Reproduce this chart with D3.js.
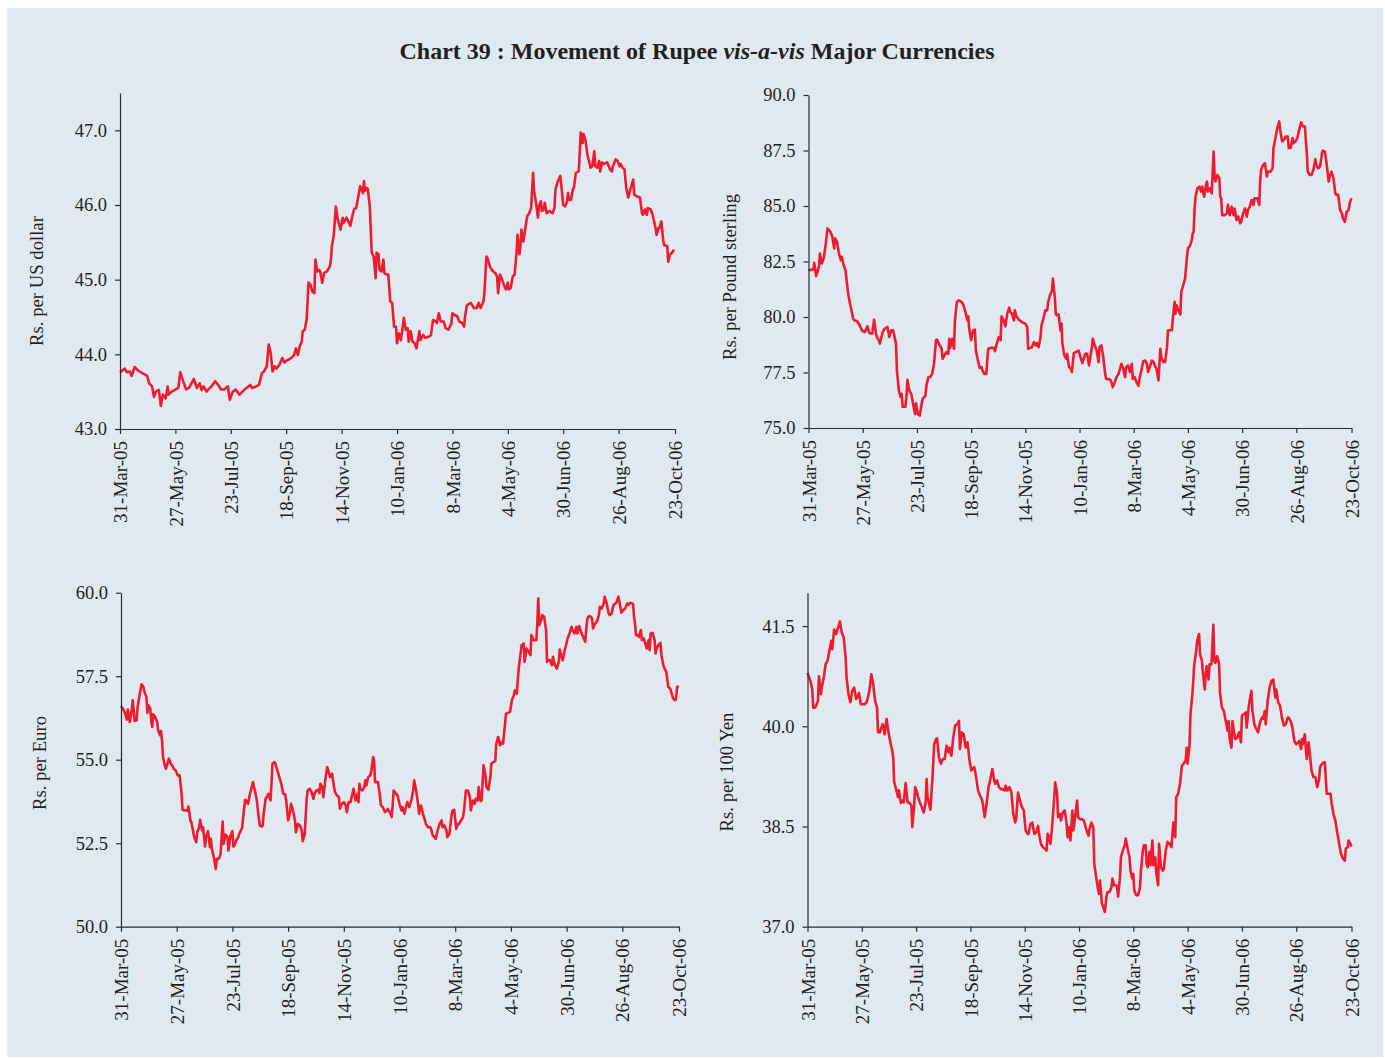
<!DOCTYPE html>
<html>
<head>
<meta charset="utf-8">
<script src="https://cdn.jsdelivr.net/npm/d3@7"></script>
<style>
body { margin: 0; background: #ffffff; }
svg { display: block; font-family: "Liberation Serif", "Times New Roman", serif; }
.axis path, .axis line { stroke: #2a2a2a; stroke-width: 1.2; }
.axis text { fill: #231f20; font-family: "Liberation Serif", serif; }
.axis.x text { font-size: 19px; }
.axis.y text { font-size: 18.5px; }
.ylabel { font-size: 18.7px; fill: #231f20; }
</style>
</head>
<body>
<svg id="chart" width="1385" height="1059"></svg>
<script>
// x positions are days counted from 31-Mar-05
var startDate = new Date(2005, 2, 31);
var endDate = new Date(2006, 9, 23);

var tickDates = ["2005-03-31", "2005-05-27", "2005-07-23", "2005-09-18", "2005-11-14", "2006-01-10",
                 "2006-03-08", "2006-05-04", "2006-06-30", "2006-08-26", "2006-10-23"];

var usdTicks = [43, 44, 45, 46, 47];
var gbpTicks = [75, 77.5, 80, 82.5, 85, 87.5, 90];
var eurTicks = [50, 52.5, 55, 57.5, 60];
var jpyTicks = [37, 38.5, 40, 41.5];

var usdRates = [[0,43.76],[5,43.81],[7,43.76],[10,43.77],[12,43.71],[15,43.83],[19,43.78],[24,43.74],[28,43.71],[30,43.61],
  [33,43.57],[35,43.43],[37,43.50],[40,43.52],[42,43.31],[44,43.46],[47,43.41],[49,43.57],[50,43.46],[53,43.50],
  [56,43.52],[60,43.55],[62,43.76],[65,43.64],[68,43.53],[71,43.55],[76,43.67],[79,43.55],[82,43.61],[84,43.52],
  [86,43.57],[89,43.50],[91,43.53],[94,43.57],[98,43.64],[101,43.59],[104,43.53],[107,43.53],[111,43.57],[113,43.39],
  [116,43.50],[119,43.53],[123,43.46],[126,43.50],[130,43.55],[134,43.59],[136,43.55],[140,43.57],[143,43.59],[146,43.75],
  [148,43.77],[151,43.84],[153,44.13],[155,44.02],[157,43.77],[159,43.84],[161,43.81],[164,43.86],[167,43.95],[169,43.89],
  [172,43.92],[176,43.95],[179,43.99],[181,44.08],[183,43.99],[185,44.11],[187,44.17],[188,44.31],[190,44.33],[192,44.46],
  [193,44.71],[194,44.96],[196,44.93],[198,44.84],[200,44.82],[201,45.27],[203,45.11],[205,45.13],[206,45.11],[208,44.96],
  [210,45.09],[213,45.11],[216,45.18],[217,45.27],[218,45.45],[220,45.60],[222,45.98],[224,45.81],[225,45.76],[227,45.67],
  [229,45.83],[230,45.76],[233,45.83],[235,45.78],[237,45.72],[239,45.85],[241,45.95],[243,45.96],[245,46.10],[247,46.25],
  [248,46.23],[250,46.16],[251,46.32],[252,46.19],[254,46.23],[255,46.21],[257,45.98],[258,45.67],[259,45.36],[261,45.31],
  [263,45.02],[264,45.36],[266,45.34],[267,45.13],[269,45.11],[271,45.27],[272,45.09],[274,45.07],[276,45.07],[278,44.71],
  [280,44.69],[282,44.37],[284,44.37],[285,44.15],[287,44.28],[289,44.19],[290,44.28],[292,44.49],[294,44.33],[296,44.35],
  [297,44.17],[299,44.31],[301,44.17],[303,44.15],[305,44.08],[308,44.31],[309,44.19],[312,44.26],[314,44.22],[318,44.24],
  [320,44.26],[322,44.46],[325,44.44],[326,44.42],[328,44.55],[330,44.44],[333,44.44],[335,44.35],[338,44.33],[341,44.42],
  [342,44.55],[344,44.53],[347,44.51],[349,44.44],[352,44.42],[354,44.37],[355,44.51],[357,44.66],[361,44.69],[364,44.62],
  [367,44.62],[369,44.69],[371,44.62],[374,44.71],[375,44.84],[377,45.31],[378,45.29],[381,45.16],[384,45.11],[386,45.09],
  [388,45.04],[389,44.82],[391,45.07],[392,45.04],[395,44.93],[397,44.87],[399,44.96],[400,44.87],[402,44.89],[404,45.04],
  [406,45.07],[408,45.36],[409,45.60],[411,45.34],[412,45.46],[413,45.67],[415,45.51],[417,45.69],[419,45.85],[421,45.89],
  [423,45.96],[425,46.43],[426,46.19],[428,46.03],[430,45.83],[431,45.98],[433,46.05],[434,45.92],[436,45.94],[437,46.03],
  [439,45.89],[442,45.92],[445,45.89],[447,45.96],[448,46.21],[450,46.30],[452,46.36],[453,46.39],[455,46.14],[456,46.00],
  [458,45.98],[460,46.05],[461,46.16],[462,46.07],[464,46.07],[466,46.21],[467,46.23],[469,46.43],[472,46.45],[473,46.70],
  [474,46.97],[475,46.95],[476,46.83],[477,46.95],[479,46.86],[481,46.66],[483,46.57],[484,46.50],[486,46.52],[488,46.72],
  [489,46.52],[491,46.50],[493,46.59],[494,46.45],[496,46.57],[498,46.55],[501,46.57],[502,46.55],[504,46.48],[506,46.45],
  [507,46.52],[510,46.61],[512,46.59],[514,46.52],[515,46.55],[517,46.50],[519,46.48],[521,46.21],[523,46.10],[525,46.21],
  [526,46.25],[528,46.34],[529,46.14],[531,46.12],[535,46.10],[537,45.89],[538,45.87],[540,45.94],[542,45.87],[543,45.96],
  [546,45.94],[548,45.87],[549,45.81],[551,45.69],[552,45.60],[554,45.69],[555,45.69],[557,45.78],[559,45.51],[560,45.46],
  [563,45.45],[564,45.24],[566,45.34],[568,45.36],[570,45.40]];

var gbpRates = [[0,82.11],[5,82.14],[6,82.44],[8,81.84],[11,82.26],[12,82.86],[14,82.41],[16,82.64],[18,83.24],[20,83.99],
  [23,83.84],[25,83.64],[27,83.09],[28,83.54],[30,83.39],[32,82.86],[34,82.56],[35,82.71],[37,82.33],[39,82.11],
  [40,81.66],[42,80.98],[44,80.53],[47,79.93],[48,79.85],[51,79.82],[54,79.62],[56,79.40],[59,79.32],[61,79.47],
  [62,79.58],[64,79.28],[67,79.25],[69,79.88],[71,79.25],[72,79.10],[74,78.95],[75,78.80],[78,79.32],[80,79.47],
  [83,79.55],[85,79.10],[87,79.40],[89,79.40],[92,78.80],[93,77.59],[95,76.69],[97,76.39],[98,76.54],[99,75.96],
  [102,75.96],[103,76.39],[104,77.17],[106,76.69],[108,76.54],[110,76.08],[112,75.63],[113,76.11],[115,75.63],[117,75.56],
  [119,76.08],[120,76.31],[123,76.46],[124,76.91],[126,77.29],[128,77.29],[130,77.44],[132,77.89],[134,78.95],[135,78.98],
  [138,78.72],[140,78.57],[141,78.12],[143,78.27],[145,78.42],[147,78.34],[148,79.02],[149,78.61],[151,79.02],[153,78.57],
  [154,79.85],[156,80.68],[158,80.75],[161,80.68],[163,80.53],[165,80.23],[167,79.85],[168,80.03],[169,79.47],[171,78.95],
  [173,79.40],[175,79.43],[176,78.49],[178,78.07],[180,77.71],[182,77.74],[183,77.59],[185,77.44],[187,77.44],[188,78.04],
  [189,78.57],[192,78.61],[195,78.61],[196,78.46],[198,78.80],[200,79.10],[202,78.95],[203,80.03],[205,79.88],[207,79.58],
  [209,80.15],[211,80.42],[212,80.23],[214,80.15],[216,79.85],[217,80.30],[219,80.00],[222,79.85],[225,79.76],[228,79.70],
  [230,79.55],[231,78.57],[233,78.61],[235,78.64],[237,78.87],[239,78.72],[240,78.83],[242,78.64],[244,79.10],[245,79.62],
  [247,79.93],[249,80.30],[251,80.30],[252,80.68],[254,80.98],[256,81.20],[257,81.73],[259,80.90],[260,80.15],[261,80.08],
  [263,80.12],[265,79.40],[266,79.70],[267,78.80],[269,78.27],[271,78.12],[272,78.34],[274,77.74],[276,77.67],[277,77.52],
  [279,78.37],[281,78.42],[284,78.49],[286,78.19],[288,77.92],[291,78.34],[293,78.34],[295,77.82],[298,78.64],[299,79.02],
  [301,78.72],[303,78.49],[305,77.97],[306,78.64],[308,78.72],[310,78.19],[312,77.44],[313,77.21],[316,77.21],[318,77.14],
  [320,76.84],[322,77.06],[324,77.29],[326,77.44],[327,77.59],[329,77.89],[331,77.67],[333,77.29],[334,77.74],[336,77.82],
  [338,77.52],[340,77.89],[341,77.21],[343,77.29],[345,77.06],[347,76.91],[348,77.21],[350,77.59],[352,78.01],[354,78.04],
  [356,77.89],[357,77.52],[359,77.74],[361,78.04],[363,77.97],[364,77.82],[366,77.67],[368,77.14],[370,78.57],[371,78.19],
  [373,77.97],[375,77.97],[377,78.64],[378,79.40],[380,79.40],[382,79.40],[384,80.30],[385,80.68],[386,80.15],[387,80.53],
  [389,80.30],[391,80.12],[392,81.13],[394,81.43],[396,81.73],[398,82.71],[399,83.09],[401,83.19],[403,83.46],[404,83.77],
  [405,83.84],[406,84.89],[407,85.42],[409,85.80],[411,85.87],[413,85.65],[414,85.87],[416,85.42],[418,85.95],[419,86.10],
  [420,85.65],[422,85.80],[424,85.57],[426,87.45],[427,86.33],[428,86.10],[430,86.40],[432,86.25],[433,85.42],[434,85.35],
  [435,84.59],[438,84.59],[440,84.67],[441,85.05],[443,84.59],[445,84.97],[447,84.59],[448,84.89],[450,84.37],[452,84.52],
  [454,84.22],[455,84.29],[457,84.67],[459,84.89],[461,84.52],[462,84.82],[464,84.97],[466,85.27],[468,85.05],[469,85.35],
  [472,85.35],[474,85.05],[475,86.17],[476,86.63],[478,86.85],[480,86.93],[482,86.33],[483,86.55],[486,86.55],[488,86.70],
  [489,87.61],[491,88.06],[493,88.51],[495,88.81],[496,88.43],[498,87.91],[500,87.98],[502,88.13],[504,88.13],[505,87.61],
  [507,87.61],[509,88.06],[510,87.83],[512,87.91],[514,88.06],[516,88.43],[518,88.77],[520,88.58],[522,88.58],[524,87.38],
  [525,86.55],[527,86.40],[529,86.40],[531,86.63],[533,87.11],[534,86.85],[536,86.70],[538,86.78],[540,87.38],[541,87.50],
  [543,87.45],[545,86.85],[547,86.10],[548,86.33],[550,86.55],[552,86.25],[554,85.57],[555,85.50],[557,85.50],[559,84.82],
  [561,84.67],[562,84.44],[564,84.29],[566,84.74],[568,84.82],[569,85.12],[571,85.35]];

var eurRates = [[0,56.60],[2,56.53],[4,56.40],[6,56.20],[7,56.50],[9,56.13],[11,56.48],[12,56.78],[14,56.16],[16,56.18],
  [17,56.58],[19,56.93],[21,57.26],[23,57.18],[24,57.03],[26,56.88],[27,56.40],[28,56.63],[30,56.53],[31,56.13],
  [32,55.98],[33,56.36],[35,56.28],[37,56.13],[38,55.88],[40,55.73],[41,55.86],[42,55.58],[43,55.08],[45,54.80],
  [46,54.73],[49,55.03],[51,54.88],[53,54.80],[54,54.73],[56,54.68],[58,54.53],[60,54.53],[62,53.98],[63,53.50],
  [65,53.48],[68,53.48],[69,53.60],[71,53.18],[72,53.13],[74,52.83],[75,52.68],[77,52.53],[78,52.83],[80,52.98],
  [81,53.20],[83,52.88],[84,52.98],[86,52.40],[87,52.70],[89,52.86],[91,52.38],[92,52.63],[93,52.33],[95,52.08],
  [97,51.73],[98,52.03],[100,52.03],[102,52.18],[103,52.68],[104,53.15],[105,52.48],[107,52.76],[109,52.68],[110,52.28],
  [112,52.73],[114,52.86],[115,52.40],[116,52.43],[118,52.58],[120,52.68],[121,52.78],[124,52.96],[125,53.28],[127,53.80],
  [128,53.78],[130,53.68],[132,53.98],[133,54.08],[135,54.33],[137,54.08],[139,53.78],[140,53.50],[142,53.03],[144,53.00],
  [145,53.03],[146,53.38],[148,53.83],[149,53.88],[151,53.98],[153,53.78],[154,54.28],[155,54.88],[157,54.93],[158,54.88],
  [160,54.68],[162,54.48],[164,54.28],[166,53.98],[168,53.96],[169,53.80],[171,53.18],[173,53.43],[174,53.68],[176,53.48],
  [178,53.18],[179,52.83],[181,53.08],[183,53.03],[185,52.88],[186,52.56],[188,52.78],[190,53.83],[191,54.08],[193,54.13],
  [195,54.03],[197,53.83],[198,53.98],[200,54.08],[202,54.10],[203,54.00],[204,54.28],[206,54.18],[207,53.88],[209,54.38],
  [211,54.78],[213,54.58],[214,54.48],[216,54.58],[218,54.18],[219,54.03],[221,53.93],[223,53.88],[224,53.53],[226,53.68],
  [228,53.73],[230,53.63],[231,53.43],[233,53.73],[235,53.73],[236,53.88],[238,54.13],[240,53.78],[242,53.98],[243,53.73],
  [244,54.28],[245,54.13],[247,54.08],[249,54.18],[250,54.38],[251,54.23],[253,54.48],[255,54.53],[256,54.63],[258,55.08],
  [259,54.98],[260,54.33],[261,54.33],[263,54.33],[265,53.90],[266,53.63],[268,53.58],[270,53.43],[272,53.48],[273,53.53],
  [275,53.43],[277,53.28],[278,53.63],[279,54.08],[283,53.93],[285,53.68],[287,53.48],[288,53.58],[290,53.38],[292,53.63],
  [293,53.73],[295,53.58],[297,53.78],[299,54.08],[300,54.38],[302,54.08],[304,53.68],[305,53.38],[307,53.63],[309,53.38],
  [310,53.28],[312,53.08],[314,52.98],[316,52.98],[317,52.96],[319,52.73],[321,52.68],[322,52.63],[324,52.88],[326,53.08],
  [328,53.18],[329,52.98],[331,53.03],[333,52.88],[334,52.68],[336,52.78],[338,53.28],[339,53.46],[341,53.50],[343,52.93],
  [345,53.08],[346,53.08],[348,53.18],[350,53.28],[351,53.48],[353,54.08],[355,54.08],[357,53.88],[358,53.48],[360,53.78],
  [362,53.68],[363,53.83],[365,53.78],[366,54.18],[368,53.76],[369,53.78],[371,54.83],[373,54.53],[374,54.18],[376,54.10],
  [378,54.48],[379,54.88],[381,54.93],[383,54.96],[384,55.48],[386,55.68],[388,55.43],[390,55.53],[391,55.48],[393,56.08],
  [394,56.38],[396,56.40],[398,56.43],[400,56.78],[402,56.93],[403,57.08],[405,56.98],[406,57.38],[407,57.73],[408,57.98],
  [410,58.43],[412,58.48],[413,57.93],[415,58.33],[417,58.23],[419,58.13],[420,58.73],[422,58.58],[424,58.58],[425,58.58],
  [426,59.08],[427,59.83],[428,59.03],[430,59.18],[431,59.33],[433,59.28],[435,58.88],[436,57.93],[437,57.98],[439,57.98],
  [441,57.83],[442,58.08],[444,57.83],[446,57.73],[448,57.93],[449,58.30],[450,58.18],[452,57.98],[454,58.28],[455,58.38],
  [457,58.63],[459,58.78],[461,58.98],[462,58.88],[464,58.78],[466,58.98],[467,58.78],[469,59.00],[471,58.80],[472,58.73],
  [475,58.53],[477,59.18],[478,59.28],[480,59.30],[482,59.23],[483,58.93],[485,59.08],[487,59.13],[489,59.33],[490,59.58],
  [492,59.53],[494,59.68],[495,59.88],[497,59.68],[499,59.38],[500,59.33],[502,59.38],[504,59.63],[506,59.68],[507,59.70],
  [509,59.88],[511,59.58],[512,59.40],[514,59.48],[516,59.53],[518,59.68],[519,59.63],[521,59.70],[523,59.68],[524,59.66],
  [525,59.28],[526,59.08],[527,58.73],[529,58.73],[530,58.68],[532,58.88],[533,58.58],[535,58.63],[536,58.53],[538,58.33],
  [540,58.58],[541,58.28],[542,58.78],[544,58.80],[546,58.58],[547,58.18],[548,58.33],[550,58.43],[552,58.50],[553,58.13],
  [555,57.83],[557,57.68],[558,57.63],[560,57.18],[562,57.13],[564,56.93],[565,56.83],[567,56.78],[568,56.83],[569,57.18],
  [571,57.18]];

var jpyRates = [[0,40.80],[3,40.68],[5,40.55],[6,40.28],[8,40.28],[9,40.31],[11,40.38],[12,40.75],[14,40.48],[15,40.58],
  [17,40.73],[19,40.93],[21,40.98],[23,41.13],[25,41.28],[26,41.15],[28,41.45],[30,41.38],[31,41.43],[33,41.52],
  [34,41.57],[36,41.40],[38,41.33],[40,41.03],[41,40.73],[43,40.48],[45,40.36],[47,40.53],[49,40.58],[51,40.41],
  [52,40.43],[54,40.50],[56,40.33],[58,40.33],[60,40.33],[62,40.36],[63,40.41],[65,40.53],[67,40.78],[69,40.63],
  [71,40.38],[73,40.28],[74,39.91],[76,39.91],[77,39.96],[79,40.03],[81,39.88],[83,40.11],[85,39.91],[87,39.76],
  [89,39.63],[90,39.53],[91,39.16],[93,39.06],[95,38.94],[96,39.04],[98,38.85],[100,38.89],[101,38.86],[103,39.15],
  [105,38.86],[107,38.86],[109,38.81],[110,38.49],[112,38.84],[113,39.09],[115,39.01],[116,38.94],[118,38.86],[120,38.79],
  [122,38.71],[124,38.86],[125,39.21],[126,38.94],[128,38.81],[129,38.75],[131,39.19],[133,39.73],[135,39.81],[136,39.82],
  [138,39.53],[140,39.44],[142,39.51],[144,39.51],[146,39.71],[148,39.61],[149,39.68],[151,39.56],[153,39.83],[155,40.01],
  [157,40.03],[159,40.08],[160,39.66],[162,39.91],[164,39.88],[166,39.68],[168,39.76],[170,39.49],[172,39.34],[173,39.36],
  [175,39.39],[177,39.24],[179,39.04],[181,38.96],[183,38.91],[184,38.84],[186,38.64],[188,38.84],[190,39.09],[192,39.21],
  [194,39.36],[196,39.19],[197,39.14],[199,39.19],[201,39.09],[203,39.06],[205,39.06],[207,39.04],[208,39.11],[210,39.04],
  [212,39.09],[214,39.01],[216,38.69],[218,38.56],[219,38.61],[221,39.01],[223,38.89],[225,38.79],[227,38.74],[229,38.44],
  [231,38.39],[232,38.39],[234,38.54],[236,38.56],[238,38.39],[240,38.41],[242,38.51],[243,38.39],[245,38.24],[247,38.19],
  [249,38.17],[251,38.14],[252,38.39],[253,38.36],[255,38.24],[257,38.54],[259,38.94],[260,39.16],[262,38.99],[263,38.64],
  [265,38.69],[266,38.59],[268,38.71],[270,38.74],[272,38.54],[273,38.34],[275,38.49],[276,38.29],[278,38.74],[279,38.44],
  [281,38.66],[283,38.89],[284,38.64],[286,38.61],[288,38.61],[290,38.59],[291,38.54],[293,38.44],[295,38.36],[296,38.46],
  [298,38.56],[300,38.49],[301,37.94],[303,37.74],[304,37.64],[306,37.49],[307,37.69],[309,37.35],[311,37.27],[312,37.22],
  [314,37.47],[315,37.52],[317,37.52],[319,37.59],[320,37.72],[322,37.62],[324,37.62],[325,37.59],[326,37.45],[328,37.74],
  [329,38.04],[331,38.14],[333,38.22],[334,38.32],[336,38.17],[338,38.04],[339,37.84],[341,37.72],[342,37.79],[343,37.54],
  [345,37.47],[347,37.47],[349,37.59],[350,37.84],[352,38.14],[353,38.22],[355,38.22],[356,37.94],[357,37.89],[359,38.12],
  [360,37.92],[362,38.29],[363,37.92],[365,38.04],[366,37.82],[368,37.62],[369,38.24],[371,37.89],[373,37.84],[374,37.86],
  [376,38.14],[378,38.27],[380,38.24],[382,38.19],[384,38.56],[386,38.34],[387,38.94],[389,38.99],[391,39.14],[393,39.41],
  [395,39.44],[397,39.49],[398,39.68],[399,39.44],[401,39.73],[402,40.18],[404,40.48],[406,40.93],[408,41.13],[409,41.28],
  [411,41.38],[412,41.08],[414,40.98],[415,40.80],[417,40.55],[418,40.80],[419,40.90],[421,40.70],[422,40.93],[424,40.93],
  [426,41.52],[427,40.98],[428,40.95],[430,41.05],[432,40.93],[433,40.50],[435,40.28],[437,40.23],[439,40.08],[441,39.93],
  [442,40.08],[443,39.83],[445,39.68],[446,40.08],[448,39.88],[449,39.81],[451,39.83],[453,39.91],[455,39.76],[456,40.16],
  [458,40.18],[460,40.21],[461,39.98],[463,40.28],[464,40.38],[466,40.53],[467,40.23],[469,40.03],[471,39.96],[473,39.91],
  [475,40.06],[477,40.13],[478,40.11],[480,40.23],[481,40.03],[483,40.38],[485,40.58],[487,40.68],[489,40.70],[491,40.43],
  [492,40.55],[494,40.36],[496,40.31],[498,40.13],[500,40.01],[502,40.03],[504,40.13],[505,40.13],[507,40.08],[509,39.98],
  [511,39.78],[513,39.73],[515,39.76],[516,39.78],[518,39.66],[519,39.81],[520,39.73],[522,39.88],[524,39.51],[526,39.76],
  [527,39.63],[529,39.34],[531,39.24],[533,39.24],[535,39.09],[537,39.21],[538,39.39],[540,39.44],[542,39.46],[543,39.46],
  [545,38.99],[547,38.99],[549,38.99],[550,38.86],[552,38.69],[554,38.59],[556,38.41],[557,38.34],[558,38.24],[560,38.09],
  [562,38.02],[564,37.99],[565,38.17],[567,38.19],[568,38.29],[570,38.24],[571,38.20]];

var chart = {
	w: 1385,
	h: 1059,
	svg: null
};

var panels = [
	{data: usdRates, ticks: usdTicks, domain: [43, 47.5], label: "Rs. per US dollar",
	 l: 120, r: 675, t: 93, b: 429, lx: 43, ly: 281},
	{data: gbpRates, ticks: gbpTicks, domain: [75, 90], label: "Rs. per Pound sterling",
	 l: 808.5, r: 1351.5, t: 95, b: 428, lx: 736, ly: 277},
	{data: eurRates, ticks: eurTicks, domain: [50, 60], label: "Rs. per Euro",
	 l: 121, r: 679, t: 592.7, b: 926.7, lx: 46, ly: 763},
	{data: jpyRates, ticks: jpyTicks, domain: [37, 42], label: "Rs. per 100 Yen",
	 l: 807.5, r: 1351.5, t: 592.7, b: 926.7, lx: 733, ly: 772}
];

function initChart() {
	chart.svg = d3.select("#chart");
	chart.svg.append("rect")
		.attr("x", 7).attr("y", 8)
		.attr("width", chart.w - 9).attr("height", chart.h - 10)
		.attr("fill", "#e1e9f0");

	var title = chart.svg.append("text")
		.attr("x", 697).attr("y", 59)
		.attr("text-anchor", "middle")
		.attr("font-size", "24px")
		.attr("font-weight", "bold")
		.attr("fill", "#231f20");
	title.append("tspan").text("Chart 39 : Movement of Rupee ");
	title.append("tspan").attr("font-style", "italic").text("vis-a-vis");
	title.append("tspan").text(" Major Currencies");
}

function drawPanel(p) {
	var parseDay = d3.timeParse("%Y-%m-%d");
	var x_scale = d3.scaleTime()
		.domain([startDate, endDate])
		.range([p.l, p.r]);
	var y_scale = d3.scaleLinear()
		.domain(p.domain)
		.range([p.b, p.t]);

	var x_axis = d3.axisBottom(x_scale)
		.tickValues(tickDates.map(parseDay))
		.tickFormat(d3.timeFormat("%-d-%b-%y"))
		.tickSize(5)
		.tickSizeOuter(0);

	var y_axis = d3.axisLeft(y_scale)
		.tickValues(p.ticks)
		.tickFormat(d3.format(".1f"))
		.tickSize(5)
		.tickPadding(8)
		.tickSizeOuter(0);

	var line = d3.line()
		.x(d => x_scale(d3.timeDay.offset(startDate, d[0])))
		.y(d => y_scale(d[1]));

	chart.svg.append("path")
		.datum(p.data)
		.attr("fill", "none")
		.attr("stroke", "#ee1c30")
		.attr("stroke-width", 2.6)
		.attr("stroke-linejoin", "round")
		.attr("d", line);

	chart.svg.append("g")
		.attr("class", "axis x")
		.attr("transform", "translate(0," + p.b + ")")
		.call(x_axis)
		.call(g => g.selectAll("text")
			.attr("transform", "rotate(-90)")
			.attr("x", -12).attr("y", 0)
			.attr("dy", "0.35em")
			.attr("text-anchor", "end"));

	chart.svg.append("g")
		.attr("class", "axis y")
		.attr("transform", "translate(" + p.l + ",0)")
		.call(y_axis);

	chart.svg.append("text")
		.attr("class", "ylabel")
		.attr("transform", "translate(" + p.lx + "," + p.ly + ") rotate(-90)")
		.attr("text-anchor", "middle")
		.text(p.label);
}

initChart();
panels.forEach(drawPanel);
</script>
</body>
</html>
